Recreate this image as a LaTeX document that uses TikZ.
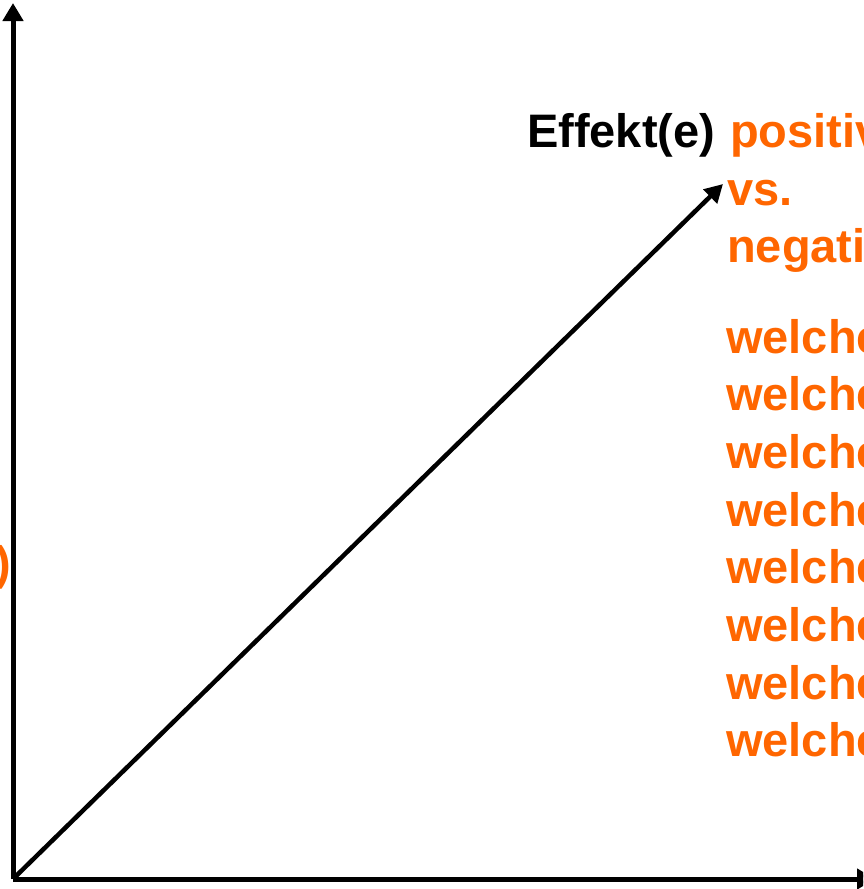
\documentclass[tikz,border=0pt]{standalone}
\usepackage{fontspec}
\setmainfont{Liberation Sans}
\usetikzlibrary{arrows.meta}
\definecolor{signalorange}{RGB}{255,102,0}

\begin{document}
\begin{tikzpicture}[
      x=1pt, y=-1pt,
      font=\fontsize{47}{57.5}\selectfont\bfseries,
      axis/.style={line width=5pt, -{Triangle[length=18pt,width=20pt]}},
      vec/.style={line width=4.5pt, -{Triangle[length=18pt,width=19pt]}},
      lbl/.style={inner sep=0pt, anchor=base west},
      hot/.style={lbl, text=signalorange}
    ]
    \useasboundingbox (0,0) rectangle (863,889);
    \clip (0,0) rectangle (863,889);

    % axes (frame of the slide cut at the edges)
    \coordinate (origin) at (13,879);
    \coordinate (ytop) at (13,3);
    \coordinate (xend) at (875,879);
    \draw[axis] (origin) -- (ytop);
    \draw[axis] (origin) -- (xend);

    % y-axis label, only its closing bracket is left
    \node[text=signalorange, inner sep=0pt, anchor=base east] (ylab) at (11,579) {)};

    % effect labels
    \node[lbl] (effekt) at (527,147) {Effekt(e)};
    \node[hot] (pos) at (730,147) {positive};
    \node[hot] (vs) at (727,205) {vs.};
    \node[hot] (neg) at (727,262) {negative};

    % list of questions
    \foreach \i in {0,...,7}
      \node[hot] (w\i) at (726,{353+57.7*\i}) {welche};

    % the vector
    \coordinate (tip) at (723,184);
    \draw[vec] (origin) -- (tip);
  \end{tikzpicture}
\end{document}
